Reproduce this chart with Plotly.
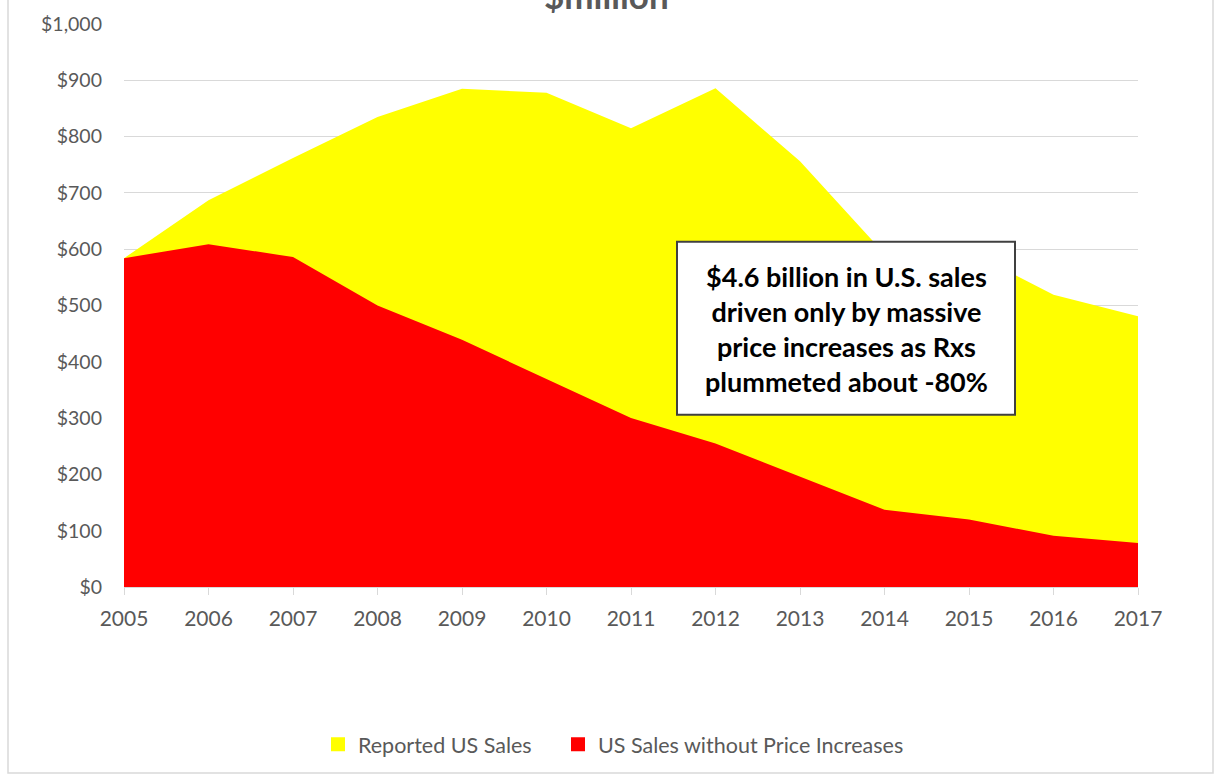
import plotly.graph_objects as go

years = [2005, 2006, 2007, 2008, 2009, 2010, 2011, 2012, 2013, 2014, 2015, 2016, 2017]
reported_us_sales = [584, 687, 762, 835, 885, 878, 815, 886, 756, 592, 596, 519, 481]
sales_without_price_increases = [584, 609, 586, 500, 439, 369, 300, 255, 196, 137, 120, 91, 78]
y_tick_values = [0, 100, 200, 300, 400, 500, 600, 700, 800, 900, 1000]
y_tick_labels = ["$0", "$100", "$200", "$300", "$400", "$500", "$600", "$700", "$800", "$900", "$1,000"]
series_names = ["Reported US Sales", "US Sales without Price Increases"]
series_colors = ["#FFFF00", "#FF0000"]

FONT = "Lato, Carlito, Calibri, sans-serif"
GRAY = "#595959"

fig = go.Figure()
for name, vals, col in zip(series_names, [reported_us_sales, sales_without_price_increases], series_colors):
    fig.add_trace(go.Scatter(
        x=years, y=vals, name=name, showlegend=False,
        mode="lines", line=dict(width=0, color=col),
        fill="tozeroy", fillcolor=col, hoverinfo="x+y+name",
    ))
# legend entries (square swatches), one legend box per entry for exact placement
for name, col, leg in zip(series_names, series_colors, ["legend", "legend2"]):
    fig.add_trace(go.Scatter(
        x=[None], y=[None], name=name, mode="markers", legend=leg,
        marker=dict(symbol="square", size=14, color=col), showlegend=True,
    ))

W, H = 1222, 783
L, R, T, B = 124, 84, 18, 196
pw, ph = W - L - R, H - T - B

def px(xp):
    return (xp - L) / pw

def py(yp):
    return (H - B - yp) / ph

legend_style = dict(
    orientation="h", yanchor="middle", xanchor="left",
    font=dict(family=FONT, size=21.5, color=GRAY), itemwidth=30,
)

fig.update_layout(
    width=W, height=H,
    margin=dict(l=L, r=R, t=T, b=B),
    paper_bgcolor="white", plot_bgcolor="white",
    font=dict(family=FONT, color=GRAY, size=19),
    showlegend=True,
    legend=dict(x=px(318), y=py(746), **legend_style),
    legend2=dict(x=px(558), y=py(746), **legend_style),
    xaxis=dict(
        range=[2005, 2017], tickmode="array", tickvals=years,
        ticktext=[str(y) for y in years],
        showgrid=False, showline=True, linecolor="#D9D9D9", linewidth=1,
        ticks="outside", ticklen=7, tickcolor="#D9D9D9",
        ticklabelstandoff=6,
        tickfont=dict(family=FONT, size=21, color=GRAY),
        zeroline=False, fixedrange=True,
    ),
    yaxis=dict(
        range=[0, 1000], tickmode="array", tickvals=y_tick_values, ticktext=y_tick_labels,
        showgrid=True, gridcolor="#D9D9D9", gridwidth=1,
        showline=False, zeroline=False, ticks="",
        ticklabelstandoff=21,
        tickfont=dict(family=FONT, size=19.5, color=GRAY),
        fixedrange=True,
    ),
    shapes=[
        dict(type="rect", xref="paper", yref="paper",
             x0=px(8), x1=px(1213), y0=py(775), y1=py(-20),
             line=dict(color="#D9D9D9", width=1.5), fillcolor="rgba(0,0,0,0)", layer="below"),
        dict(type="rect", xref="paper", yref="paper",
             x0=px(677), x1=px(1015), y0=py(413), y1=py(238),
             line=dict(color="#404040", width=2), fillcolor="white", layer="above"),
    ],
    annotations=[
        dict(text="<b>$million</b>", xref="paper", yref="paper",
             x=px(606), y=py(-11), xanchor="center", yanchor="middle",
             showarrow=False, font=dict(family=FONT, size=35, color=GRAY)),
        dict(text="<b>$4.6 billion in U.S. sales<br>driven only by massive<br>price increases as Rxs<br>plummeted about -80%</b>",
             xref="paper", yref="paper", x=px(846), y=py(326),
             xanchor="center", yanchor="middle", align="center", showarrow=False,
             font=dict(family=FONT, size=27, color="black")),
    ],
)

fig.write_html(
    "out.html",
    config={"displayModeBar": False},
    post_script="document.body.style.margin='0';document.body.style.overflow='hidden';",
)
